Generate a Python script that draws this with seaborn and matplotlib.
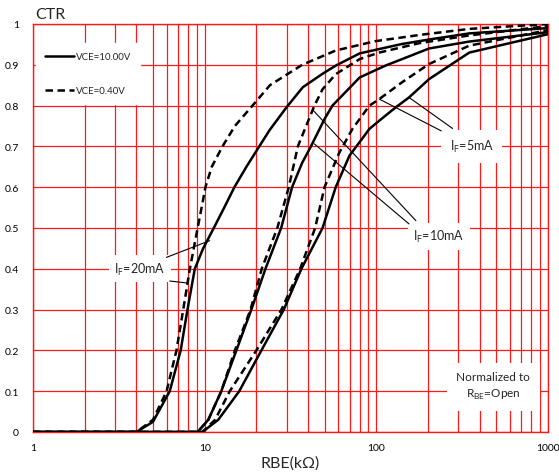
import matplotlib
matplotlib.use("Agg")
import matplotlib.pyplot as plt
from matplotlib.lines import Line2D
import numpy as np
import pandas as pd
import seaborn as sns

# RBE (kOhm) vs normalized CTR for three forward currents at two VCE levels
rbe_20_s = [1, 3, 4.0, 5.0, 6.26, 7.25, 7.94, 8.76, 9.8, 11.3, 13, 14.9, 17.5, 20.8, 23.9, 30, 37.3,
            48.6, 58, 80, 141, 203, 348, 1000]
ctr_20_s = [0, 0, 0, 0.025, 0.1, 0.2, 0.3, 0.4, 0.45, 0.5, 0.55, 0.6, 0.65, 0.7, 0.74, 0.796, 0.845,
            0.878, 0.898, 0.928, 0.951, 0.962, 0.977, 0.99]

rbe_20_d = [1, 3, 4.0, 5.0, 6.0, 6.85, 7.5, 8.2, 9.1, 9.7, 10.1, 11, 12.7, 15, 19, 24, 37, 58, 99,
            185, 348, 1000]
ctr_20_d = [0, 0, 0, 0.03, 0.1, 0.2, 0.3, 0.4, 0.5, 0.56, 0.6, 0.65, 0.7, 0.75, 0.8, 0.85, 0.9,
            0.935, 0.958, 0.974, 0.988, 1.0]

rbe_10_s = [1, 5, 9.1, 10.5, 12.5, 15.3, 18.7, 22.6, 27.9, 32.3, 37, 41.6, 49.9, 55.5, 80, 113,
            203, 348, 1000]
ctr_10_s = [0, 0, 0, 0.03, 0.1, 0.2, 0.3, 0.4, 0.5, 0.6, 0.66, 0.7, 0.767, 0.8, 0.869, 0.898,
            0.94, 0.957, 0.98]

rbe_10_d = [1, 5, 9.1, 10.5, 12.5, 15, 18.5, 21.5, 26.5, 30.9, 34.9, 43.6, 48.6, 58, 80, 104,
            178, 348, 1000]
ctr_10_d = [0, 0, 0, 0.03, 0.1, 0.2, 0.3, 0.4, 0.5, 0.6, 0.7, 0.8, 0.84, 0.877, 0.914, 0.93,
            0.953, 0.972, 0.995]

rbe_5_s = [1, 5, 9.7, 12, 15.9, 21.4, 28.9, 36.6, 48.6, 58, 69.7, 91.2, 104, 130, 155, 203, 348, 1000]
ctr_5_s = [0, 0, 0, 0.03, 0.1, 0.2, 0.3, 0.4, 0.5, 0.6, 0.677, 0.743, 0.763, 0.796, 0.82, 0.865,
           0.93, 0.975]

rbe_5_d = [1, 5, 9.7, 11.5, 14, 20, 28, 36, 44, 49.9, 60.9, 72.6, 91.2, 104, 141, 203, 348, 1000]
ctr_5_d = [0, 0, 0, 0.03, 0.1, 0.2, 0.3, 0.4, 0.5, 0.6, 0.685, 0.743, 0.8, 0.816, 0.857, 0.902,
           0.947, 0.985]

vce_labels = ["VCE=10.00V", "VCE=0.40V"]
x_ticks = [1, 10, 100, 1000]
y_ticks = [0, 0.1, 0.2, 0.3, 0.4, 0.5, 0.6, 0.7, 0.8, 0.9, 1.0]

curves = [
    ("20mA", vce_labels[0], rbe_20_s, ctr_20_s),
    ("20mA", vce_labels[1], rbe_20_d, ctr_20_d),
    ("10mA", vce_labels[0], rbe_10_s, ctr_10_s),
    ("10mA", vce_labels[1], rbe_10_d, ctr_10_d),
    ("5mA", vce_labels[0], rbe_5_s, ctr_5_s),
    ("5mA", vce_labels[1], rbe_5_d, ctr_5_d),
]
frames = []
for i, (cur, vce, xs, ys) in enumerate(curves):
    frames.append(pd.DataFrame({"RBE": xs, "CTR": ys, "IF": cur, "VCE": vce, "curve": i}))
df = pd.concat(frames, ignore_index=True)

sns.set_theme(style="white")
plt.rcParams["font.family"] = ["Lato", "DejaVu Sans"]
plt.rcParams["mathtext.fontset"] = "custom"
plt.rcParams["mathtext.rm"] = "Lato"

fig = plt.figure(figsize=(5.59, 4.77), dpi=100)
ax = fig.add_axes([33 / 559, 44 / 477, 515 / 559, 408 / 477])

styles = {vce_labels[0]: "-", vce_labels[1]: (0, (3, 1.8))}
for i, (cur, vce, xs, ys) in enumerate(curves):
    sub = df[df["curve"] == i]
    sns.lineplot(data=sub, x="RBE", y="CTR", ax=ax, color="black", lw=1.8,
                 linestyle=styles[vce], sort=False, estimator=None, zorder=4)

ax.set_xscale("log")
ax.set_xlim(1, 1000)
ax.set_ylim(0, 1)
ax.set_xticks(x_ticks)
ax.set_xticklabels([str(t) for t in x_ticks])
ax.set_yticks(y_ticks)
ax.set_yticklabels(["0" if t == 0 else ("1" if t == 1 else f"{t:.1f}") for t in y_ticks])
ax.xaxis.set_minor_locator(matplotlib.ticker.LogLocator(base=10, subs=np.arange(2, 10)))
ax.xaxis.set_minor_formatter(matplotlib.ticker.NullFormatter())
ax.tick_params(which="both", length=0, labelsize=7.5, colors="black")
ax.tick_params(axis="x", pad=8)
ax.tick_params(axis="y", pad=10)
ax.grid(which="both", axis="both", color="#ff1a1a", lw=0.9)
ax.set_axisbelow(True)
for s in ax.spines.values():
    s.set_color("#ff1a1a")
    s.set_linewidth(1.0)

ax.set_xlabel("RBE(k\u03a9)", fontsize=11.5, labelpad=2)
ax.set_ylabel("")
fig.text(35 / 559, 1 - 15 / 477, "CTR", fontsize=11.5, va="center", ha="left")

# legend for the two collector-emitter voltages
handles = [Line2D([], [], color="black", lw=1.8, linestyle=styles[v]) for v in vce_labels]
leg = ax.legend(handles, vce_labels, loc="upper left", bbox_to_anchor=(0.0, 0.96),
                frameon=True, fancybox=False, facecolor="white", edgecolor="white",
                framealpha=1, fontsize=7, labelspacing=2.6, handlelength=3.0,
                handletextpad=0.2, borderpad=0.9, borderaxespad=0.3)
leg.set_zorder(5)

box = dict(facecolor="white", edgecolor="none", pad=4)

# forward-current labels with leader lines to their curves
ax.text(4.19, 0.40, r"I$_{\mathrm{F}}$=20mA", fontsize=9, ha="center", va="center", bbox=box, zorder=3)
ax.plot([5.99, 10.7], [0.428, 0.469], color="black", lw=0.8, zorder=5)
ax.plot([6.26, 8.0], [0.37, 0.365], color="black", lw=0.8, zorder=5)

ax.text(232, 0.48, r"I$_{\mathrm{F}}$=10mA", fontsize=9, ha="center", va="center", bbox=box, zorder=3)
ax.plot([170, 42.5], [0.518, 0.79], color="black", lw=0.8, zorder=5)
ax.plot([155, 43.6], [0.51, 0.706], color="black", lw=0.8, zorder=5)

ax.text(360, 0.70, r"I$_{\mathrm{F}}$=5mA", fontsize=9, ha="center", va="center",
        bbox=dict(facecolor="white", edgecolor="none", pad=6), zorder=3)
ax.plot([239, 104], [0.738, 0.816], color="black", lw=0.8, zorder=5)
ax.plot([278, 155], [0.744, 0.82], color="black", lw=0.8, zorder=5)

ax.text(480, 0.113, "Normalized to\n" + r"R$_{\mathrm{BE}}$=Open", fontsize=8.5, ha="center",
        va="center", linespacing=1.5, bbox=dict(facecolor="white", edgecolor="none", pad=7), zorder=3)

fig.savefig("out.png", dpi=100)
